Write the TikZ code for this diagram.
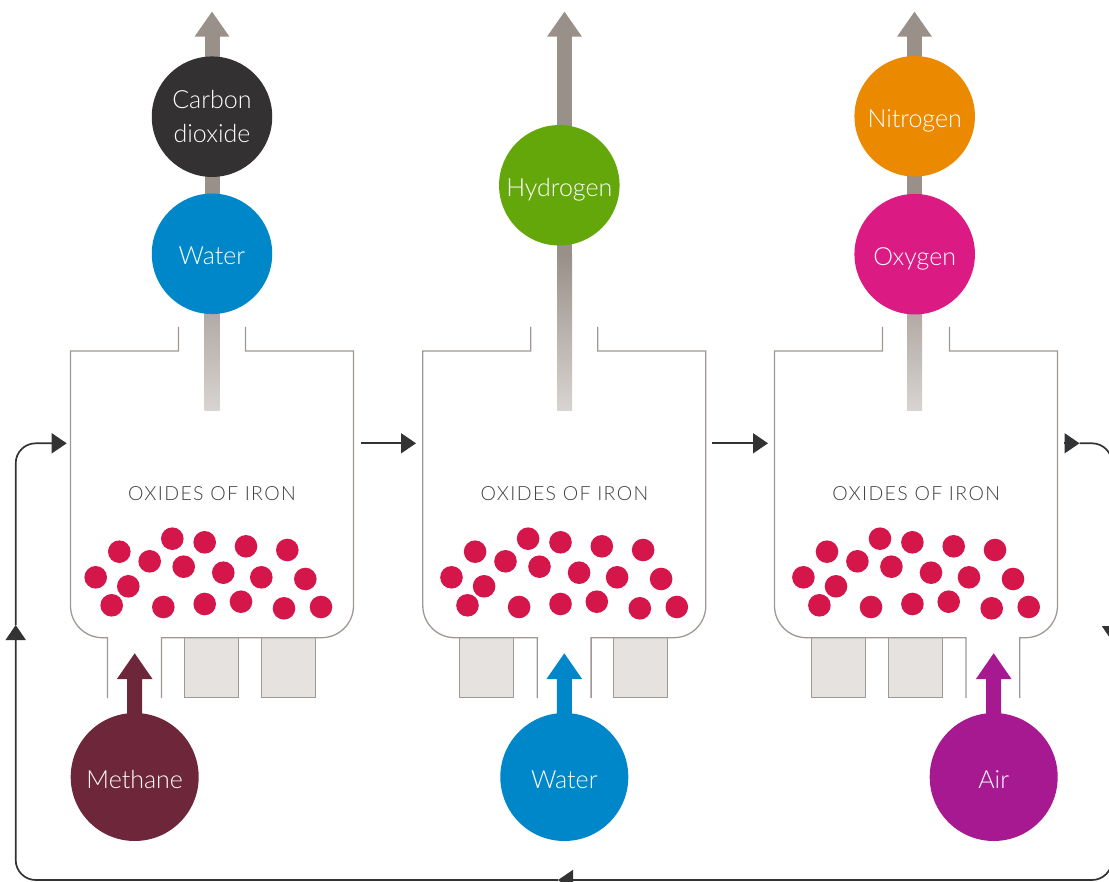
\documentclass[tikz,border=0pt]{standalone}
\usepackage{fontspec}
\setmainfont{Lato Light}
\newfontfamily\oxfont{Lato Light}[LetterSpace=7]
\usetikzlibrary{arrows.meta,calc}
\definecolor{vesselc}{HTML}{A09892}
\definecolor{boxfill}{HTML}{E6E2E0}
\definecolor{shaftc}{HTML}{9A908A}
\definecolor{shaftl}{HTML}{D8D4D1}
\definecolor{ballc}{HTML}{D4164A}
\definecolor{loopc}{HTML}{333333}
\definecolor{co2c}{HTML}{343132}
\definecolor{waterc}{HTML}{0087CA}
\definecolor{h2c}{HTML}{64A70B}
\definecolor{n2c}{HTML}{EB8A00}
\definecolor{o2c}{HTML}{DB1A83}
\definecolor{ch4c}{HTML}{6D263A}
\definecolor{airc}{HTML}{A61990}
\definecolor{textc}{HTML}{3F3F3F}
\begin{document}
\begin{tikzpicture}[x=1pt,y=-1pt,
  vesselline/.style={draw=vesselc, line width=1.3pt},
  slotbox/.style={draw=vesselc, fill=boxfill, line width=1.3pt},
  gas/.style={circle, minimum size=120.5pt, inner sep=0pt, text=white, align=center,
    text height=24pt, text depth=2pt, font=\fontsize{25}{33.5}\selectfont},
  feed/.style={gas, minimum size=128pt, font=\fontsize{25}{30}\selectfont},
  flow/.style={draw=loopc, line width=1.7pt, -{Triangle[length=15pt,width=20pt]}},
  oxlabel/.style={text=textc, inner sep=0pt, font=\oxfont\fontsize{19.5}{22}\selectfont},
  ball/.style={fill=ballc},
  vbody/.style={minimum width=283pt, minimum height=286.7pt, inner sep=0pt}
]
\useasboundingbox (0,0) rectangle (1109,882);
\clip (0,0) rectangle (1109,882);

% ---------- top product shafts (behind circles) ----------
\foreach \cx in {212,564.5,914.5}{
  \fill[shaftc] ({\cx-7.5},35) rectangle ({\cx+7.5},255);
  \shade[top color=shaftc, bottom color=shaftl] ({\cx-7.5},254.5) rectangle ({\cx+7.5},410.7);
  \fill[shaftc] ({\cx-17.5},36.7) -- (\cx,11.7) -- ({\cx+17.5},36.7) -- cycle;
}

% ---------- vessels ----------
\node[vbody] (v1) at (212,494.35) {};
\node[vbody] (v2) at (564.3,494.35) {};
\node[vbody] (v3) at (916,494.35) {};

% slot boxes
\foreach \x in {184.5,261.5, 459.8,613.8, 811.5,888.5}{
  \draw[slotbox] (\x,637.7) rectangle ({\x+54},697.7);
}
% outlines: cx / pipe left / pipe right
\foreach \cx/\pl/\pr in {212/107.5/161.5, 564.3/537.3/591.1, 916/966/1019.8}{
  \draw[vesselline] ({\cx-33.5},327) -- ({\cx-33.5},351) -- ({\cx-141.5},351) -- ({\cx-141.5},605.7)
    .. controls ({\cx-141.5},623.4) and ({\cx-127.2},637.7) .. ({\cx-109.5},637.7)
    -- (\pl,637.7) -- (\pl,698);
  \draw[vesselline] (\pr,698) -- (\pr,637.7) -- ({\cx+109.5},637.7)
    .. controls ({\cx+127.2},637.7) and ({\cx+141.5},623.4) .. ({\cx+141.5},605.7)
    -- ({\cx+141.5},351) -- ({\cx+33.5},351) -- ({\cx+33.5},327);
}

% labels
\node[oxlabel] (t1) at (212,493.3) {OXIDES OF IRON};
\node[oxlabel] (t2) at (564.5,493.3) {OXIDES OF IRON};
\node[oxlabel] (t3) at (916.2,493.3) {OXIDES OF IRON};

% particles
\foreach \cx in {208.5,564.3,916.2}{
  \foreach \dx/\y in {-89.2/551.7,-58.8/561.3,-36.2/538.7,-3.8/542.3,37.5/546.3,78.8/550,
      -112.8/577.3,-80.2/586.3,-24.8/566.7,14.8/572.7,52.8/577.3,96.8/579,
      -96.8/605.3,-45.2/607,-3.8/604,32.5/601.7,75.5/608.3,112.5/607}{
    \fill[ball] ({\cx+\dx},\y) circle (11.3);
  }
}

% ---------- product circles ----------
\node[gas, fill=co2c, text height=, text depth=] (co2) at (212,116.7) {Carbon\\dioxide};
\node[gas, fill=waterc] (wout) at (212,253.8) {Water};
\node[gas, fill=h2c] (h2) at (559.3,185.3) {Hydrogen};
\node[gas, fill=n2c] (n2) at (914.7,116.3) {Nitrogen};
\node[gas, fill=o2c] (o2) at (914.7,254.2) {Oxygen};

% ---------- feed arrows and circles ----------
\foreach \x/\c in {134.7/ch4c, 564.3/waterc, 993.7/airc}{
  \fill[\c] ({\x-7.5},725) -- ({\x-7.5},679) -- ({\x-17.8},679) -- (\x,653.3)
    -- ({\x+17.8},679) -- ({\x+7.5},679) -- ({\x+7.5},725) -- cycle;
}
\node[feed, fill=ch4c] (ch4) at (134.7,777) {Methane};
\node[feed, fill=waterc] (win) at (564.3,777) {Water};
\node[feed, fill=airc] (air) at (993.7,777) {Air};

% ---------- flow between vessels ----------
\coordinate (a1) at (360.5,443.3);
\coordinate (b1) at (416,443.3);
\coordinate (a2) at (712,443.3);
\coordinate (b2) at (768,443.3);
\draw[flow] (a1) -- (b1);
\draw[flow] (a2) -- (b2);

% ---------- return loop ----------
\coordinate (r0) at (1064,443.3);
\coordinate (r1) at (1079.5,443.3);
\coordinate (rc1) at (1112,443.3);
\coordinate (rd) at (1112,641);
\coordinate (rc2) at (1112,880);
\coordinate (bm) at (558,880);
\coordinate (lc1) at (15.7,880);
\coordinate (lu) at (15.7,625);
\coordinate (lc2) at (15.7,443.3);
\coordinate (l1) at (66.7,443.3);
\draw[flow] (r0) -- (r1);
\draw[flow, rounded corners=20pt] (r1) -- (rc1) -- (rd);
\draw[flow, rounded corners=20pt] (rd) -- (rc2) -- (bm);
\draw[flow, rounded corners=20pt] (bm) -- (lc1) -- (lu);
\draw[flow, rounded corners=20pt] (lu) -- (lc2) -- (l1);
\end{tikzpicture}
\end{document}
